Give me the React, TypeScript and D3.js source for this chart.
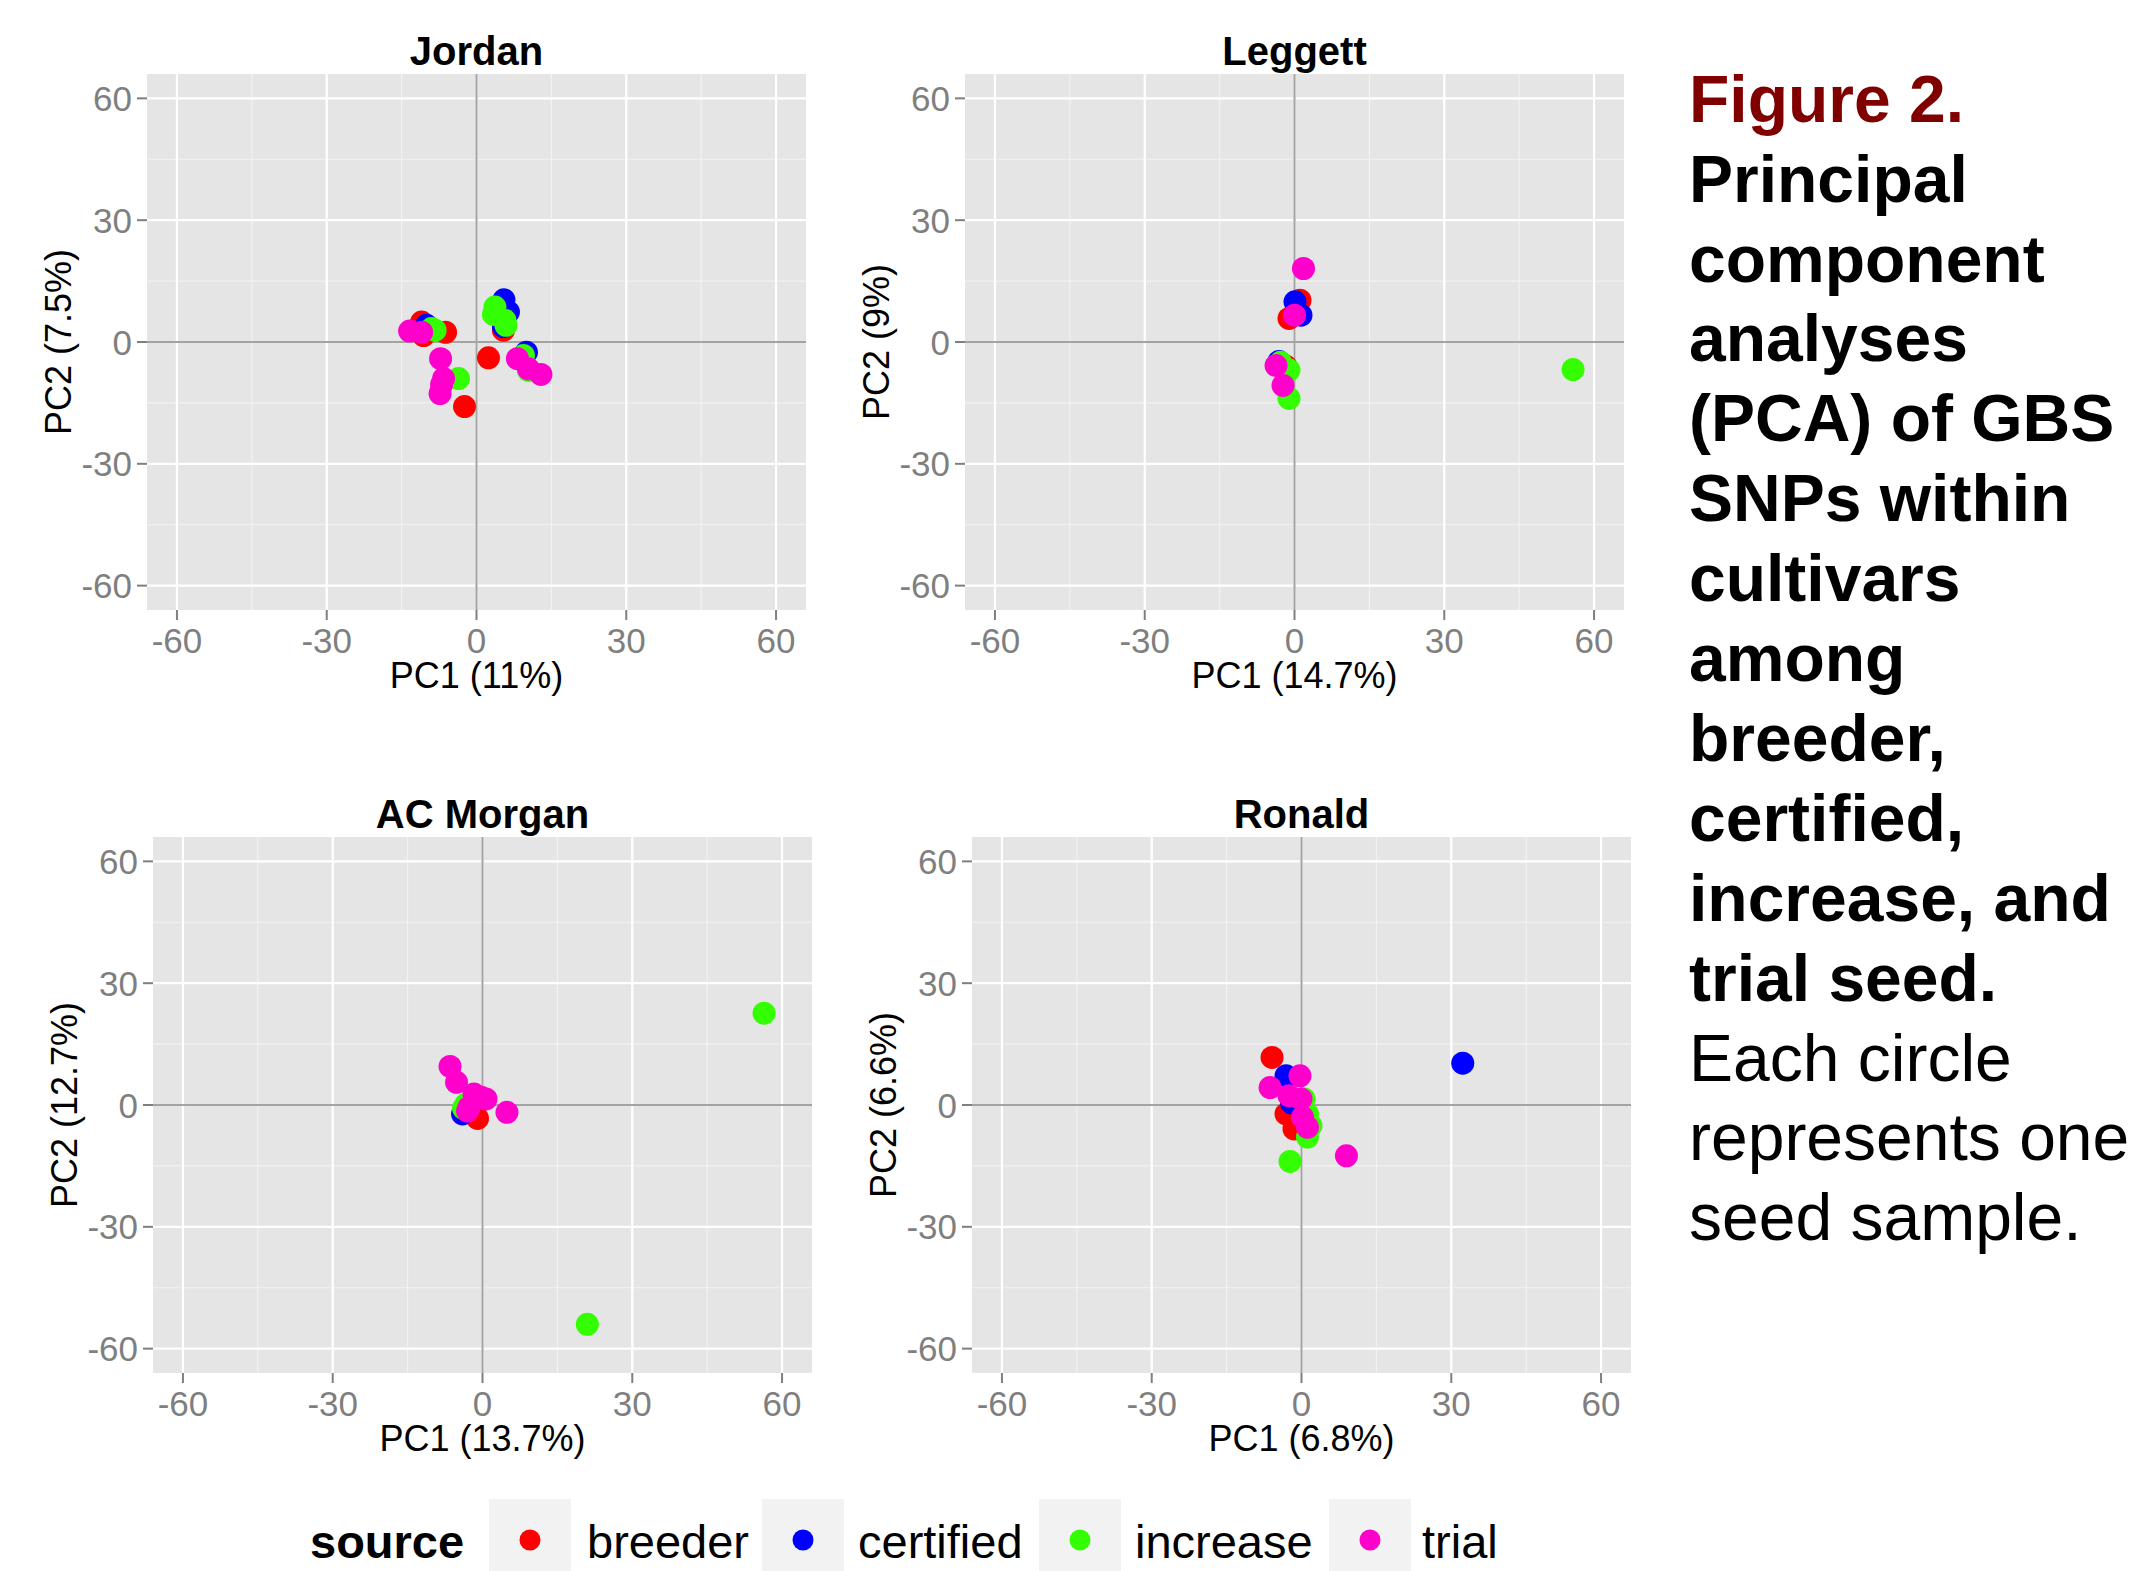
import React from "react";
import * as d3 from "d3";

// PCA scores, [PC1, PC2] per seed sample
const jordanBreeder = [[-11.0, 4.9], [-10.6, 1.6], [-6.2, 2.4], [-2.4, -15.9], [2.4, -3.9], [5.4, 2.9]];
const jordanCertified = [[-10.0, 4.1], [5.5, 10.4], [6.4, 7.4], [5.4, 3.8], [10.0, -2.5]];
const jordanIncrease = [[-9.0, 3.3], [-8.3, 2.9], [-3.6, -9.0], [3.7, 8.6], [3.4, 6.8], [5.7, 5.3], [5.9, 4.1], [9.4, -3.3], [10.4, -7.0]];
const jordanTrial = [[-13.4, 2.7], [-11.0, 2.4], [-7.2, -4.1], [-6.6, -9.0], [-7.0, -10.5], [-7.3, -12.7], [8.2, -4.1], [10.4, -6.6], [12.9, -8.0]];

const leggettBreeder = [[1.1, 10.3], [-1.1, 5.8], [-1.7, -6.0]];
const leggettCertified = [[0.1, 9.9], [1.3, 6.6], [-3.1, -4.8]];
const leggettIncrease = [[-1.1, -6.9], [-1.1, -13.9], [55.8, -6.8], [-2.8, -5.0]];
const leggettTrial = [[1.8, 18.1], [0.0, 6.6], [-3.7, -5.8], [-2.3, -10.7]];

const morganBreeder = [[-1.0, -3.3]];
const morganCertified = [[-4.0, -2.2], [-3.0, 0.0]];
const morganIncrease = [[-3.3, 0.2], [56.4, 22.6], [21.0, -54.0], [-3.8, -0.8]];
const morganTrial = [[-6.5, 9.5], [-5.2, 5.6], [-0.3, 1.9], [-2.7, -0.6], [-1.7, 2.7], [4.9, -1.8], [0.7, 1.5], [-3.0, -1.5]];

const ronaldBreeder = [[-5.9, 11.7], [-3.1, -2.2], [-1.5, -5.9]];
const ronaldCertified = [[-3.1, 7.2], [32.3, 10.3], [-2.0, 0.5]];
const ronaldIncrease = [[0.5, 1.5], [1.2, -2.2], [1.9, -5.1], [1.2, -7.9], [-2.3, -13.9]];
const ronaldTrial = [[-0.3, 7.2], [-6.3, 4.3], [-2.5, 2.3], [-0.1, 1.5], [0.2, -3.0], [1.2, -5.5], [9.0, -12.5]];

const sources = ["breeder", "certified", "increase", "trial"];
const sourceColors = ["#FF0000", "#0000FF", "#33FF00", "#FF00CC"];

const majorTicks = [-60, -30, 0, 30, 60];
const minorTicks = [-45, -15, 15, 45];

const captionBold = [
  "Principal",
  "component",
  "analyses",
  "(PCA) of GBS",
  "SNPs within",
  "cultivars",
  "among",
  "breeder,",
  "certified,",
  "increase, and",
  "trial seed.",
];
const captionPlain = ["Each circle", "represents one", "seed sample."];

const panels = [
  { title: "Jordan", xLab: "PC1 (11%)", yLab: "PC2 (7.5%)", left: 147, top: 74,
    series: [jordanBreeder, jordanCertified, jordanIncrease, jordanTrial] },
  { title: "Leggett", xLab: "PC1 (14.7%)", yLab: "PC2 (9%)", left: 965, top: 74,
    series: [leggettBreeder, leggettCertified, leggettIncrease, leggettTrial] },
  { title: "AC Morgan", xLab: "PC1 (13.7%)", yLab: "PC2 (12.7%)", left: 153, top: 837,
    series: [morganBreeder, morganCertified, morganIncrease, morganTrial] },
  { title: "Ronald", xLab: "PC1 (6.8%)", yLab: "PC2 (6.6%)", left: 972, top: 837,
    series: [ronaldBreeder, ronaldCertified, ronaldIncrease, ronaldTrial] },
];

const W = 659;
const H = 536;
const FONT = "'Liberation Sans', Arial, Helvetica, sans-serif";

const Panel = ({ p }: { p: any }) => {
  const x = d3.scaleLinear().domain([-66, 66]).range([0, W]);
  const y = d3.scaleLinear().domain([-66, 66]).range([H, 0]);
  return (
    <g transform={`translate(${p.left},${p.top})`} fontFamily={FONT}>
      <rect width={W} height={H} fill="#E5E5E5" />
      {minorTicks.map((t) => (
        <g key={"m" + t}>
          <line x1={x(t)} x2={x(t)} y1={0} y2={H} stroke="#F2F2F2" strokeWidth={1.2} />
          <line x1={0} x2={W} y1={y(t)} y2={y(t)} stroke="#F2F2F2" strokeWidth={1.2} />
        </g>
      ))}
      {majorTicks.map((t) => (
        <g key={"M" + t}>
          <line x1={x(t)} x2={x(t)} y1={0} y2={H} stroke="#FFFFFF" strokeWidth={2.2} />
          <line x1={0} x2={W} y1={y(t)} y2={y(t)} stroke="#FFFFFF" strokeWidth={2.2} />
        </g>
      ))}
      <line x1={x(0)} x2={x(0)} y1={0} y2={H} stroke="#A3A3A3" strokeWidth={2} />
      <line x1={0} x2={W} y1={y(0)} y2={y(0)} stroke="#A3A3A3" strokeWidth={2} />
      {p.series.map((pts: number[][], si: number) =>
        pts.map((d, i) => (
          <circle key={si + "-" + i} cx={x(d[0])} cy={y(d[1])} r={11.5} fill={sourceColors[si]} />
        ))
      )}
      {majorTicks.map((t) => (
        <g key={"t" + t}>
          <line x1={x(t)} x2={x(t)} y1={H} y2={H + 10} stroke="#7F7F7F" strokeWidth={2} />
          <text x={x(t)} y={H + 43} textAnchor="middle" fontSize={35} fill="#7F7F7F">{t}</text>
          <line x1={-10} x2={0} y1={y(t)} y2={y(t)} stroke="#7F7F7F" strokeWidth={2} />
          <text x={-15} y={y(t)} dy="0.36em" textAnchor="end" fontSize={35} fill="#7F7F7F">{t}</text>
        </g>
      ))}
      <text x={W / 2} y={-9} textAnchor="middle" fontSize={40} fontWeight="bold" fill="#000">{p.title}</text>
      <text x={W / 2} y={H + 78} textAnchor="middle" fontSize={36} fill="#000">{p.xLab}</text>
      <text transform={`translate(${-89},${H / 2}) rotate(-90)`} dy="0.36em" textAnchor="middle" fontSize={36} fill="#000">{p.yLab}</text>
    </g>
  );
};

const legendKeyX = [489, 762, 1039, 1329];
const legendTextX = [587, 858, 1135, 1422];

export default function App() {
  return (
    <svg width={2131} height={1571} style={{ position: "absolute", left: 0, top: 0, display: "block", background: "#fff" }}>
      {panels.map((p) => (
        <Panel key={p.title} p={p} />
      ))}
      <g fontFamily={FONT}>
        <text x={310} y={1558} fontSize={47} fontWeight="bold">source</text>
        {sources.map((s, i) => (
          <g key={s}>
            <rect x={legendKeyX[i]} y={1499} width={82} height={82} fill="#F2F2F2" />
            <circle cx={legendKeyX[i] + 41} cy={1540} r={10.5} fill={sourceColors[i]} />
            <text x={legendTextX[i]} y={1558} fontSize={47}>{s}</text>
          </g>
        ))}
      </g>
      <g fontFamily={FONT} fontSize={66}>
        <text x={1689} y={121.7} fontWeight="bold" fill="#800000">Figure 2.</text>
        {captionBold.map((l, i) => (
          <text key={l} x={1689} y={121.7 + (i + 1) * 79.9} fontWeight="bold" fill="#000">{l}</text>
        ))}
        {captionPlain.map((l, i) => (
          <text key={l} x={1689} y={121.7 + (i + 1 + captionBold.length) * 79.9} fill="#000">{l}</text>
        ))}
      </g>
    </svg>
  );
}
